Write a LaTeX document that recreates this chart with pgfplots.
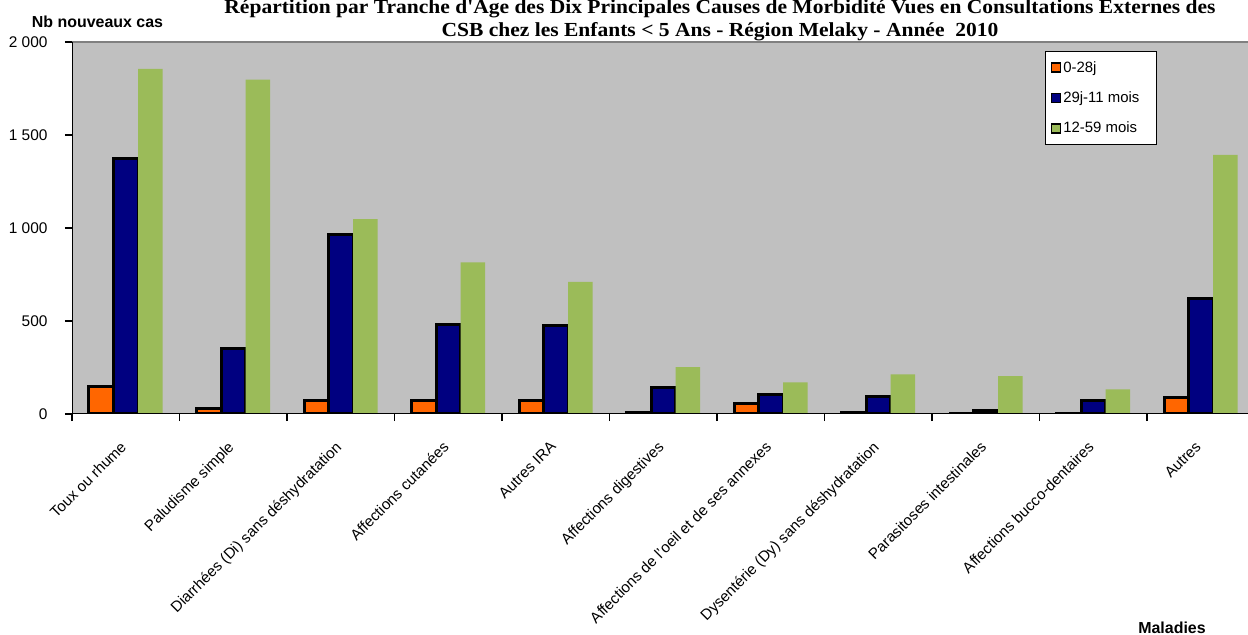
\documentclass[border=0pt]{standalone}
\usepackage{pgfplots}
\pgfplotsset{compat=1.18}
\usepackage{fontspec}
\setmainfont{Liberation Sans}
\newfontfamily\titlefont{Liberation Serif}
\definecolor{bgc}{HTML}{C0C0C0}
\definecolor{c1}{HTML}{FF6600}
\definecolor{c2}{HTML}{000080}
\definecolor{c3}{HTML}{9BBB59}
\definecolor{topc}{HTML}{808080}
\begin{document}
\begin{tikzpicture}
\useasboundingbox (0,0) rectangle (1248bp,635bp);
\clip (0,0) rectangle (1248bp,635bp);
\begin{axis}[
  scale only axis, width=1182.5bp, height=372bp,
  at={(72bp,221bp)}, anchor=south west,
  xmin=-0.5, xmax=10.5, ymin=0, ymax=2000,
  axis background/.style={fill=bgc},
  axis line style={draw=none},
  ybar=0pt, bar width=24.5bp,
  xtick={-0.5,0.5,...,10.5}, x tick label as interval,
  xticklabels={Toux ou rhume,Paludisme simple,Diarrhées (Di) sans déshydratation,Affections cutanées,Autres IRA,Affections digestives,Affections de l'oeil et de ses annexes,Dysentérie (Dy) sans déshydratation,Parasitoses intestinales,Affections bucco-dentaires,Autres},
  xticklabel style={rotate=45, anchor=north east, inner sep=0pt, font=\fontsize{15.2}{17}\selectfont, xshift=-18bp, yshift=-9bp},
  ytick={0,500,1000,1500,2000}, yticklabels={0,500,1 000,1 500,2 000},
  yticklabel style={font=\fontsize{15.5}{17}\selectfont, xshift=-14bp},
  tick align=outside, major tick length=7bp,
  xtick pos=bottom, ytick pos=left,
  tick style={black, line width=1.2bp},
  legend image code/.code={\draw[#1, line width=1.5bp] (0bp,-4.5bp) rectangle (9bp,4.5bp);},
  legend style={at={(0.823,0.976)}, anchor=north west, draw=black, line width=1.2bp, fill=white,
    font=\fontsize{15}{17}\selectfont, row sep=14bp, inner xsep=5bp, inner ysep=8bp},
  legend cell align=left,
]
\addplot[fill=c1, draw=black, line width=3bp] coordinates {(0,150) (1,30) (2,75) (3,70) (4,70) (5,10) (6,55) (7,10) (8,0) (9,5) (10,88)};
\addplot[fill=c2, draw=black, line width=3bp] coordinates {(0,1375) (1,350) (2,965) (3,480) (4,475) (5,140) (6,105) (7,95) (8,20) (9,75) (10,620)};
\addplot[fill=c3, draw=none] coordinates {(0,1855) (1,1798) (2,1048) (3,815) (4,710) (5,252) (6,170) (7,213) (8,204) (9,133) (10,1393)};
\legend{0-28j,29j-11 mois\hspace*{10bp},12-59 mois}
\draw[topc, line width=3bp] (rel axis cs:0,1) -- (rel axis cs:1,1);
\draw[black, line width=1.5bp] (rel axis cs:0,0) -- (rel axis cs:0,1);
\draw[black, line width=2bp] (rel axis cs:0,0) -- (rel axis cs:1,0);
\end{axis}
\node[anchor=base, font=\titlefont\bfseries\fontsize{20}{22}\selectfont] at (720bp,621bp) {\scalebox{1.08}[1]{Répartition par Tranche d'Age des Dix Principales Causes de Morbidité Vues en Consultations Externes des}};
\node[anchor=base, font=\titlefont\bfseries\fontsize{20}{22}\selectfont] at (720bp,598bp) {\scalebox{1.08}[1]{CSB chez les Enfants < 5 Ans - Région Melaky - Année~~2010}};
\node[anchor=base, font=\bfseries\fontsize{16}{18}\selectfont] at (97.5bp,607bp) {Nb nouveaux cas};
\node[anchor=base, font=\bfseries\fontsize{16}{18}\selectfont] at (1172bp,2bp) {Maladies};
\end{tikzpicture}
\end{document}
